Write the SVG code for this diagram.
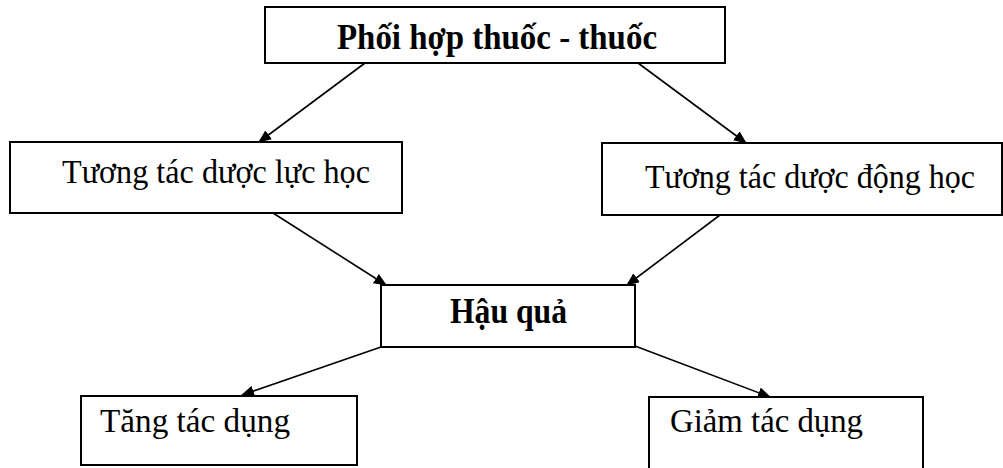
<svg xmlns="http://www.w3.org/2000/svg" width="1003" height="468" viewBox="0 0 1003 468">
<defs>
<marker id="ah" viewBox="0 0 13 11" refX="12" refY="5.5" markerWidth="13" markerHeight="11" markerUnits="userSpaceOnUse" orient="auto">
<path d="M0,0 L13,5.5 L0,11 Z" fill="#000"/>
</marker>
</defs>
<style>
.box{fill:#fff;stroke:#000;stroke-width:2}
.t{font-family:"Liberation Serif","Times New Roman",serif;font-size:33px;fill:#000}
.b{font-weight:bold;font-size:35px}
.c{stroke:#000;stroke-width:1.6;fill:none;marker-end:url(#ah)}
</style>
<rect width="1003" height="468" fill="#fff"/>
<g id="connectors">
<line class="c" x1="365" y1="63" x2="259" y2="142"/>
<line class="c" x1="638" y1="63" x2="746" y2="143"/>
<line class="c" x1="273" y1="213" x2="386" y2="285"/>
<line class="c" x1="720" y1="215" x2="627" y2="285"/>
<line class="c" x1="381" y1="347" x2="242" y2="395"/>
<line class="c" x1="635" y1="346" x2="770" y2="397"/>
</g>
<g id="n-top">
<rect class="box" x="265" y="7" width="460" height="56"/>
<text class="t b" x="337" y="49" textLength="320" lengthAdjust="spacingAndGlyphs">Phối hợp thuốc - thuốc</text>
</g>
<g id="n-lucHoc">
<rect class="box" x="10" y="142" width="392" height="71"/>
<text class="t" x="62" y="183" textLength="308" lengthAdjust="spacingAndGlyphs">Tương tác dược lực học</text>
</g>
<g id="n-dongHoc">
<rect class="box" x="602" y="143" width="400" height="72"/>
<text class="t" x="645" y="188" textLength="330" lengthAdjust="spacingAndGlyphs">Tương tác dược động học</text>
</g>
<g id="n-hauQua">
<rect class="box" x="381" y="285" width="254" height="62"/>
<text class="t b" x="450" y="323" textLength="117" lengthAdjust="spacingAndGlyphs">Hậu quả</text>
</g>
<g id="n-tang">
<rect class="box" x="81" y="396" width="276" height="69"/>
<text class="t" x="100" y="432" textLength="190" lengthAdjust="spacingAndGlyphs">Tăng tác dụng</text>
</g>
<g id="n-giam">
<rect class="box" x="649" y="397" width="274" height="75"/>
<text class="t" x="670" y="432" textLength="193" lengthAdjust="spacingAndGlyphs">Giảm tác dụng</text>
</g>
</svg>
